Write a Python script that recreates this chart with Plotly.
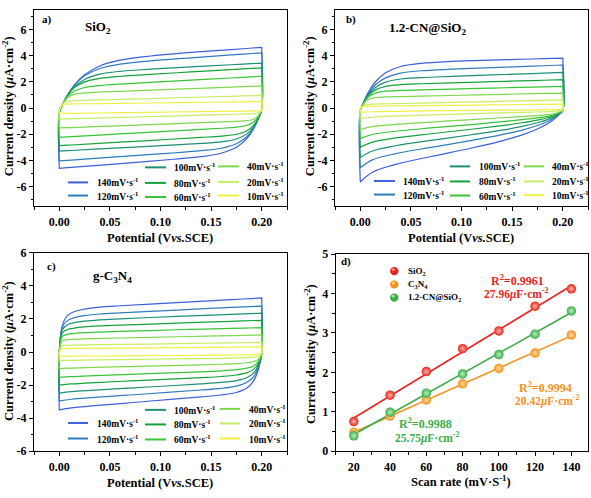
import numpy as np
import plotly.graph_objects as go

W, H = 591, 498
FONT = "Liberation Serif, Times New Roman, serif"

# ---------------- data ----------------
RATES = [140, 120, 100, 80, 60, 40, 20, 10]
RATE_LABELS = [f"<b>{r}mV·s<sup>-1</sup></b>" for r in RATES]
CV_COLORS = ['#3c5fdc', '#2f7cbd', '#1c8f74', '#14a23a', '#36c536', '#7ed84c', '#c8ec62', '#f0f046']

# forward (upper) sweep potentials and reverse (lower) sweep potentials, V vs SCE
V_UP = [0, 0.003, 0.008, 0.015, 0.025, 0.04, 0.06, 0.09, 0.13, 0.17, 0.2]
V_DN = [0.2, 0.197, 0.192, 0.185, 0.175, 0.16, 0.14, 0.11, 0.07, 0.035, 0.012, 0]

# a) SiO2
SIO2_UP = [
    [-0.35, 0.21, 0.97, 1.78, 2.55, 3.22, 3.66, 3.98, 4.25, 4.47, 4.64],
    [-0.35, 0.23, 0.99, 1.76, 2.46, 3.02, 3.36, 3.61, 3.84, 4.06, 4.22],
    [-0.35, 0.22, 0.95, 1.63, 2.19, 2.59, 2.81, 2.97, 3.15, 3.31, 3.44],
    [-0.35, 0.24, 0.96, 1.56, 2.00, 2.27, 2.43, 2.58, 2.76, 2.94, 3.07],
    [-0.35, 0.23, 0.85, 1.30, 1.57, 1.72, 1.83, 1.96, 2.13, 2.30, 2.43],
    [-0.30, 0.29, 0.78, 1.05, 1.16, 1.23, 1.28, 1.37, 1.49, 1.60, 1.69],
    [-0.20, 0.28, 0.51, 0.56, 0.59, 0.62, 0.66, 0.73, 0.82, 0.90, 0.97],
    [-0.10, 0.25, 0.31, 0.32, 0.33, 0.34, 0.36, 0.39, 0.43, 0.47, 0.50],
]
SIO2_DN = [
    [-0.10, -0.76, -1.59, -2.36, -3.00, -3.45, -3.71, -3.93, -4.18, -4.39, -4.53, -4.60],
    [-0.10, -0.75, -1.53, -2.21, -2.73, -3.07, -3.25, -3.44, -3.65, -3.84, -3.97, -4.03],
    [-0.10, -0.72, -1.43, -1.99, -2.36, -2.58, -2.70, -2.83, -3.00, -3.14, -3.24, -3.29],
    [-0.10, -0.70, -1.32, -1.75, -2.00, -2.14, -2.24, -2.38, -2.56, -2.71, -2.82, -2.87],
    [-0.10, -0.61, -1.07, -1.33, -1.46, -1.54, -1.63, -1.76, -1.93, -2.08, -2.18, -2.23],
    [-0.10, -0.55, -0.85, -0.96, -1.01, -1.06, -1.11, -1.20, -1.32, -1.42, -1.49, -1.52],
    [-0.15, -0.36, -0.43, -0.44, -0.47, -0.50, -0.54, -0.61, -0.70, -0.77, -0.82, -0.85],
    [-0.20, -0.21, -0.22, -0.23, -0.24, -0.25, -0.27, -0.30, -0.34, -0.375, -0.40, -0.41],
]

# b) 1.2-CN@SiO2
CN_UP = [
    [-0.20, 0.42, 1.23, 2.01, 2.69, 3.18, 3.42, 3.57, 3.67, 3.75, 3.82],
    [-0.20, 0.38, 1.11, 1.78, 2.31, 2.67, 2.85, 2.97, 3.09, 3.20, 3.29],
    [-0.20, 0.36, 1.02, 1.58, 1.98, 2.22, 2.33, 2.42, 2.53, 2.64, 2.72],
    [-0.20, 0.35, 0.95, 1.39, 1.66, 1.79, 1.86, 1.93, 2.02, 2.10, 2.17],
    [-0.20, 0.33, 0.84, 1.14, 1.29, 1.35, 1.39, 1.45, 1.53, 1.60, 1.66],
    [-0.20, 0.30, 0.65, 0.80, 0.85, 0.88, 0.91, 0.96, 1.03, 1.10, 1.15],
    [-0.10, 0.18, 0.28, 0.31, 0.32, 0.35, 0.38, 0.43, 0.50, 0.57, 0.62],
    [0.00, 0.13, 0.15, 0.15, 0.16, 0.17, 0.19, 0.21, 0.24, 0.28, 0.30],
]
CN_DN = [
    [-0.20, -0.45, -0.82, -1.20, -1.60, -2.05, -2.50, -3.05, -3.70, -4.30, -4.90, -5.65],
    [-0.20, -0.40, -0.72, -1.02, -1.33, -1.68, -2.03, -2.47, -3.00, -3.48, -3.96, -4.57],
    [-0.20, -0.38, -0.65, -0.88, -1.12, -1.40, -1.69, -2.04, -2.47, -2.88, -3.28, -3.78],
    [-0.20, -0.35, -0.56, -0.74, -0.92, -1.12, -1.34, -1.62, -1.96, -2.28, -2.60, -3.00],
    [-0.20, -0.33, -0.50, -0.63, -0.75, -0.88, -1.04, -1.26, -1.52, -1.77, -2.02, -2.33],
    [-0.20, -0.30, -0.42, -0.50, -0.57, -0.64, -0.74, -0.88, -1.07, -1.25, -1.42, -1.64],
    [-0.15, -0.20, -0.25, -0.28, -0.30, -0.33, -0.36, -0.43, -0.52, -0.61, -0.70, -0.80],
    [-0.10, -0.11, -0.12, -0.13, -0.14, -0.15, -0.16, -0.18, -0.21, -0.25, -0.28, -0.32],
]

# c) g-C3N4
C3N4_UP = [
    [0.0, 1.60, 2.20, 2.45, 2.60, 2.72, 2.80, 2.90, 3.03, 3.17, 3.27],
    [0.0, 1.50, 1.90, 2.08, 2.20, 2.30, 2.37, 2.46, 2.58, 2.70, 2.78],
    [0.0, 1.35, 1.65, 1.78, 1.87, 1.95, 2.01, 2.09, 2.19, 2.28, 2.35],
    [0.0, 1.15, 1.36, 1.45, 1.52, 1.58, 1.63, 1.69, 1.78, 1.86, 1.92],
    [0.0, 0.95, 1.07, 1.12, 1.17, 1.21, 1.25, 1.30, 1.37, 1.43, 1.48],
    [0.0, 0.68, 0.74, 0.77, 0.80, 0.83, 0.85, 0.89, 0.94, 0.99, 1.03],
    [0.0, 0.38, 0.41, 0.42, 0.43, 0.45, 0.46, 0.48, 0.52, 0.55, 0.58],
    [0.0, 0.20, 0.21, 0.22, 0.22, 0.23, 0.24, 0.25, 0.27, 0.30, 0.32],
]
C3N4_DN = [
    [-0.10, -1.00, -1.75, -2.20, -2.45, -2.60, -2.72, -2.87, -3.07, -3.25, -3.38, -3.50],
    [-0.10, -0.85, -1.50, -1.85, -2.06, -2.20, -2.30, -2.43, -2.60, -2.75, -2.86, -2.96],
    [-0.10, -0.75, -1.28, -1.56, -1.73, -1.84, -1.93, -2.04, -2.18, -2.31, -2.40, -2.49],
    [-0.10, -0.65, -1.05, -1.26, -1.39, -1.48, -1.55, -1.64, -1.75, -1.85, -1.93, -2.00],
    [-0.10, -0.55, -0.84, -0.98, -1.07, -1.14, -1.20, -1.26, -1.35, -1.43, -1.49, -1.54],
    [-0.10, -0.42, -0.58, -0.65, -0.70, -0.74, -0.78, -0.82, -0.88, -0.93, -0.97, -1.00],
    [-0.10, -0.25, -0.31, -0.34, -0.36, -0.38, -0.40, -0.42, -0.45, -0.48, -0.50, -0.51],
    [-0.05, -0.13, -0.16, -0.17, -0.18, -0.19, -0.20, -0.21, -0.23, -0.24, -0.25, -0.26],
]

# d) current density vs scan rate
SCAN = [20, 40, 60, 80, 100, 120, 140]
J_SIO2 = [0.75, 1.42, 2.02, 2.60, 3.05, 3.68, 4.12]
J_C3N4 = [0.48, 0.89, 1.30, 1.71, 2.10, 2.49, 2.95]
J_CN = [0.39, 0.99, 1.47, 1.96, 2.45, 2.97, 3.56]
D_NAMES = ['SiO<sub>2</sub>', 'C<sub>3</sub>N<sub>4</sub>', '1.2-CN@SiO<sub>2</sub>']
D_COLORS = ['#e8251f', '#f5921e', '#3aae4a']
D_LIGHT = ['#ffb3a8', '#ffd9a0', '#b8efb8']
R2_TEXT = ['R<sup>2</sup>=0.9961', 'R<sup>2</sup>=0.9994', 'R<sup>2</sup>=0.9988']
CAP_TEXT = ['27.96<i>μ</i>F·cm<sup>-2</sup>', '20.42<i>μ</i>F·cm<sup>-2</sup>', '25.75<i>μ</i>F·cm<sup>-2</sup>']

# ---------------- helpers ----------------
def px(x):
    return x / W

def py(y):
    return 1 - y / H

fig = go.Figure()
shapes = []
annotations = []

def add_cv(up, dn, xa, ya):
    for i, r in enumerate(RATES):
        u, l = up[i], dn[i]
        xs = V_UP + [V_UP[-1]] + V_DN + [V_DN[-1], V_UP[0]]
        ys = u + [u[-1]] + l + [l[-1], u[0]]
        fig.add_trace(go.Scatter(
            x=xs, y=ys, mode='lines', xaxis=xa, yaxis=ya,
            line=dict(color=CV_COLORS[i], width=1.2, shape='spline', smoothing=1),
            showlegend=False, hoverinfo='skip'))

add_cv(SIO2_UP, SIO2_DN, 'x', 'y')
add_cv(CN_UP, CN_DN, 'x2', 'y2')
add_cv(C3N4_UP, C3N4_DN, 'x3', 'y3')

for j, yv in enumerate([J_SIO2, J_C3N4, J_CN]):
    k, b = np.polyfit(SCAN, yv, 1)
    xf = np.array([SCAN[0], SCAN[-1]])
    fig.add_trace(go.Scatter(x=xf, y=k * xf + b, mode='lines', xaxis='x4', yaxis='y4',
                             line=dict(color=D_COLORS[j], width=1.6),
                             showlegend=False, hoverinfo='skip'))
for j, yv in enumerate([J_SIO2, J_C3N4, J_CN]):
    fig.add_trace(go.Scatter(x=SCAN, y=yv, mode='markers', xaxis='x4', yaxis='y4',
                             marker=dict(size=9.5, color=D_COLORS[j], line=dict(width=0),
                                         gradient=dict(type='radial', color=D_LIGHT[j])),
                             showlegend=False, hoverinfo='skip'))

# ---------------- axes ----------------
TICKFONT = dict(family=FONT, size=12, color='black', weight='bold')

def base_axis(domain, anchor):
    return dict(domain=domain, anchor=anchor, ticks='outside', ticklen=4, tickwidth=1,
                tickcolor='black', showline=True, linecolor='black', linewidth=1,
                mirror=True, showgrid=False, zeroline=False, tickfont=TICKFONT, fixedrange=True)

def x_cv(domain, anchor):
    a = base_axis(domain, anchor)
    a.update(range=[-0.025, 0.225], tickvals=[0, 0.05, 0.1, 0.15, 0.2],
             ticktext=['0.00', '0.05', '0.10', '0.15', '0.20'],
             minor=dict(tickvals=[-0.025, 0.025, 0.075, 0.125, 0.175, 0.225],
                        ticks='outside', ticklen=2.5, tickwidth=1, tickcolor='black'))
    return a

def y_cv(domain, anchor, lim):
    a = base_axis(domain, anchor)
    odd = [v for v in range(-7, 8, 2) if abs(v) <= lim]
    a.update(range=[-lim, lim], tickvals=[-6, -4, -2, 0, 2, 4, 6],
             ticktext=['-6', '-4', '-2', '0', '2', '4', '6'],
             minor=dict(tickvals=odd, ticks='outside', ticklen=2.5, tickwidth=1, tickcolor='black'))
    return a

XA = [px(34), px(287)]
XB = [px(335), px(588)]
YTOP = [py(205), py(3)]
YBOT = [py(457), py(253)]

layout = dict(
    width=W, height=H, margin=dict(l=0, r=0, t=0, b=0),
    paper_bgcolor='white', plot_bgcolor='white', showlegend=False,
    font=dict(family=FONT, color='black'),
    xaxis=x_cv(XA, 'y'), yaxis=y_cv(YTOP, 'x', 7.5),
    xaxis2=x_cv(XB, 'y2'), yaxis2=y_cv(YTOP, 'x2', 7.5),
    xaxis3=x_cv(XA, 'y3'), yaxis3=y_cv(YBOT, 'x3', 6),
)
xd = base_axis([px(335.7), px(587.7)], 'y4')
xd.update(range=[10, 149], tickvals=[20, 40, 60, 80, 100, 120, 140],
          minor=dict(tickvals=[10, 30, 50, 70, 90, 110, 130], ticks='outside', ticklen=2.5,
                     tickwidth=1, tickcolor='black'))
yd = base_axis([py(457), py(254.3)], 'x4')
yd.update(range=[0, 5], tickvals=[0, 1, 2, 3, 4, 5],
          minor=dict(tickvals=[0.5, 1.5, 2.5, 3.5, 4.5], ticks='outside', ticklen=2.5,
                     tickwidth=1, tickcolor='black'))
layout['xaxis4'] = xd
layout['yaxis4'] = yd

# ---------------- text ----------------
def txt(x, y, text, size, color='black', xanchor='center', angle=0):
    annotations.append(dict(x=px(x), y=py(y), xref='paper', yref='paper', text=text,
                            showarrow=False, xanchor=xanchor, yanchor='middle', textangle=angle,
                            font=dict(family=FONT, size=size, color=color)))

YT = '<b>Current density (<i>μ</i>A·cm<sup>-2</sup>)</b>'
XT = '<b>Potential (V<i>vs.</i>SCE)</b>'
txt(8, 102, YT, 12.5, angle=-90)
txt(309, 102, YT, 12.5, angle=-90)
txt(8, 354, YT, 12.5, angle=-90)
txt(310, 357, YT, 12.5, angle=-90)
txt(160, 238, XT, 12.5)
txt(461, 238, XT, 12.5)
txt(160, 490, XT, 12.5)
txt(461, 488, '<b>Scan rate (mV·S<sup>-1</sup>)</b>', 12.5)

txt(40, 13, '<b>a)</b>', 11, xanchor='left')
txt(344, 13, '<b>b)</b>', 11, xanchor='left')
txt(45, 267, '<b>c)</b>', 11, xanchor='left')
txt(339, 262, '<b>d)</b>', 11, xanchor='left')
txt(83, 21, '<b>SiO<sub>2</sub></b>', 13, xanchor='left')
txt(387, 22, '<b>1.2-CN@SiO<sub>2</sub></b>', 13, xanchor='left')
txt(91, 277, '<b>g-C<sub>3</sub>N<sub>4</sub></b>', 13, xanchor='left')

# CV legends (line x0, x1, text x, y) per rate
LEG_A = [(68, 88, 95, 180.5), (68, 88, 95, 194), (145, 166, 172, 165), (145, 166, 172, 181),
         (145, 166, 172, 195.5), (218, 239, 245, 164), (218, 239, 245, 180), (218, 239, 245, 194)]
LEG_B = [(374, 395, 401, 179), (374, 395, 401, 193), (450, 470, 477, 164), (450, 470, 477, 179.5),
         (450, 470, 477, 194), (524, 544, 550, 164), (524, 544, 550, 179.5), (524, 544, 550, 193.5)]
LEG_C = [(68, 88, 95, 428), (68, 88, 95, 444), (145, 166, 172, 414.5), (145, 166, 172, 429.5),
         (145, 166, 172, 445), (220, 240, 247, 413.5), (220, 240, 247, 428.5), (220, 240, 247, 444)]
for leg in (LEG_A, LEG_B, LEG_C):
    for i, (x0, x1, xt, y) in enumerate(leg):
        shapes.append(dict(type='line', xref='paper', yref='paper', x0=px(x0), x1=px(x1),
                           y0=py(y), y1=py(y), line=dict(color=CV_COLORS[i], width=2)))
        txt(xt, y, RATE_LABELS[i], 9.5, xanchor='left')

# d) legend and fit labels
for j, y in enumerate([271.7, 285.5, 299]):
    shapes.append(dict(type='circle', xref='paper', yref='paper',
                       x0=px(390), x1=px(398.5), y0=py(y + 4.2), y1=py(y - 4.2),
                       fillcolor=D_COLORS[j], line=dict(width=0)))
    shapes.append(dict(type='circle', xref='paper', yref='paper',
                       x0=px(391.5), x1=px(395), y0=py(y), y1=py(y - 3),
                       fillcolor=D_LIGHT[j], line=dict(width=0), opacity=0.8))
    txt(406, y, '<b>' + D_NAMES[j] + '</b>', 9, xanchor='left')

R2_POS = [(517, 281.5), (545, 391.5), (425, 429)]
CAP_POS = [(516.5, 294.5), (547.5, 405), (427.5, 443)]
for j in range(3):
    txt(R2_POS[j][0], R2_POS[j][1], '<b>' + R2_TEXT[j] + '</b>', 12, color=D_COLORS[j])
    txt(CAP_POS[j][0], CAP_POS[j][1], '<b>' + CAP_TEXT[j] + '</b>', 11.5, color=D_COLORS[j])

layout['shapes'] = shapes
layout['annotations'] = annotations
fig.update_layout(**layout)
fig.write_html("out.html", config={'displayModeBar': False, 'staticPlot': True},
               post_script="document.body.style.margin='0px';document.body.style.overflow='hidden';")
